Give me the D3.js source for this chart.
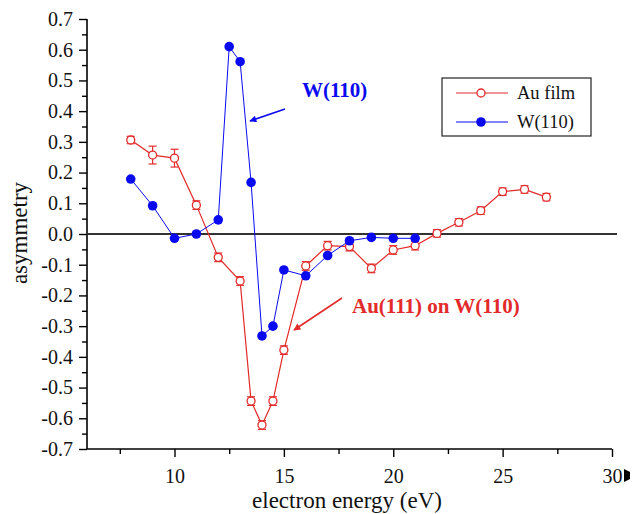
<!DOCTYPE html>
<html><head><meta charset="utf-8">
<script src="https://cdn.jsdelivr.net/npm/d3@7"></script>
<style>body{margin:0;background:#fff}svg{display:block}svg text{font-family:'Liberation Serif','Times New Roman',serif !important}</style>
</head><body>
<svg id="c" width="632" height="514"></svg>
<script>
const auX = [8,9,10,11,12,13,13.5,14,14.5,15,16,17,18,19,20,21,22,23,24,25,26,27];
const auY = [0.306,0.257,0.247,0.094,-0.076,-0.153,-0.544,-0.622,-0.544,-0.378,-0.104,-0.038,-0.041,-0.112,-0.052,-0.038,0.002,0.038,0.076,0.138,0.145,0.12];
const auErr = [0.012,0.029,0.029,0.014,0.014,0.014,0.014,0.014,0.014,0.014,0.014,0.014,0.014,0.014,0.014,0.014,0.012,0.012,0.012,0.012,0.012,0.012];
const wX = [8,9,10,11,12,12.5,13,13.5,14,14.5,15,16,17,18,19,20,21];
const wY = [0.179,0.092,-0.014,0.0,0.046,0.61,0.561,0.168,-0.332,-0.30,-0.117,-0.136,-0.07,-0.022,-0.011,-0.014,-0.014];
const xTicks = [10,15,20,25,30];
const yTicks = [0.7,0.6,0.5,0.4,0.3,0.2,0.1,0.0,-0.1,-0.2,-0.3,-0.4,-0.5,-0.6,-0.7];
const seriesNames = ["Au film","W(110)"];

const red = "#e32a2a", blue = "#0a0af0";
const svg = d3.select("#c");
const x = d3.scaleLinear().domain([6,30]).range([87,612]);
const y = d3.scaleLinear().domain([-0.7,0.7]).range([449,19]);

// axes
const xAxis = d3.axisBottom(x).tickValues(xTicks).tickFormat(d=>String(d)).tickSize(8).tickPadding(12);
const xMinor = d3.axisBottom(x).tickValues([7.5,12.5,17.5,22.5,27.5]).tickFormat("").tickSize(5);
const yAxis = d3.axisLeft(y).tickValues(yTicks).tickFormat(d=>(Math.abs(d)<1e-9?0:d).toFixed(1)).tickSize(8).tickPadding(6);
const yMinor = d3.axisLeft(y).tickValues(d3.range(-0.65,0.7,0.1)).tickFormat("").tickSize(5);

function style(g){
  g.attr("font-family",null);
  g.select(".domain").attr("stroke","#000").attr("stroke-width",1.6);
  g.selectAll(".tick line").attr("stroke","#000").attr("stroke-width",1.4);
  g.selectAll(".tick text").attr("fill","#111").style("font-size","20px");
}
svg.append("g").attr("transform","translate(0,449)").call(xAxis).call(style).call(g=>g.select(".domain").attr("d","M87,0H612"));
svg.append("g").attr("transform","translate(0,449)").call(xMinor).call(style).call(g=>g.select(".domain").remove());
svg.append("g").attr("transform","translate(87,0)").call(yAxis).call(style).call(g=>g.select(".domain").attr("d","M0,19V449"));
svg.append("g").attr("transform","translate(87,0)").call(yMinor).call(style).call(g=>g.select(".domain").remove());

// small black mark after 30
svg.append("path").attr("d","M624,469L630,472L630,479L624,482Z").attr("fill","#000");

// zero line
svg.append("line").attr("x1",87).attr("x2",617).attr("y1",y(0)).attr("y2",y(0)).attr("stroke","#333").attr("stroke-width",2);

// axis titles
svg.append("text").attr("x",347).attr("y",508).attr("text-anchor","middle").style("font-size","23px").attr("fill","#111").text("electron energy (eV)");
svg.append("text").attr("transform","translate(27,233) rotate(-90)").attr("text-anchor","middle").style("font-size","23px").attr("fill","#111").text("asymmetry");

// Au film
const au = auX.map((d,i)=>({x:d,y:auY[i],e:auErr[i]}));
const line = d3.line().x(d=>x(d.x)).y(d=>y(d.y));
svg.append("path").datum(au).attr("d",line).attr("fill","none").attr("stroke",red).attr("stroke-width",1.2);
const eb = svg.append("g").attr("stroke",red).attr("stroke-width",1.2);
au.forEach(d=>{
  eb.append("line").attr("x1",x(d.x)).attr("x2",x(d.x)).attr("y1",y(d.y+d.e)).attr("y2",y(d.y-d.e));
  eb.append("line").attr("x1",x(d.x)-4).attr("x2",x(d.x)+4).attr("y1",y(d.y+d.e)).attr("y2",y(d.y+d.e));
  eb.append("line").attr("x1",x(d.x)-4).attr("x2",x(d.x)+4).attr("y1",y(d.y-d.e)).attr("y2",y(d.y-d.e));
});
svg.append("g").selectAll("circle").data(au).join("circle")
  .attr("cx",d=>x(d.x)).attr("cy",d=>y(d.y)).attr("r",4)
  .attr("fill","#fff").attr("stroke",red).attr("stroke-width",1.3);

// W(110)
const w = wX.map((d,i)=>({x:d,y:wY[i]}));
svg.append("path").datum(w).attr("d",line).attr("fill","none").attr("stroke",blue).attr("stroke-width",1);
svg.append("g").selectAll("circle").data(w).join("circle")
  .attr("cx",d=>x(d.x)).attr("cy",d=>y(d.y)).attr("r",4.8).attr("fill",blue);

// annotations
const defs = svg.append("defs");
[["ab",blue],["ar",red]].forEach(([id,c])=>{
  defs.append("marker").attr("id",id).attr("viewBox","0 0 10 10").attr("refX",9).attr("refY",5)
    .attr("markerWidth",9).attr("markerHeight",7).attr("markerUnits","userSpaceOnUse").attr("orient","auto")
    .append("path").attr("d","M0,0L10,5L0,10Z").attr("fill",c);
});
svg.append("line").attr("x1",285).attr("y1",109).attr("x2",250).attr("y2",121).attr("stroke",blue).attr("stroke-width",1.6).attr("marker-end","url(#ab)");
svg.append("text").attr("x",302).attr("y",97).attr("fill",blue).style("font-size","21px").style("font-weight","bold").text("W(110)");
svg.append("line").attr("x1",342).attr("y1",298).attr("x2",294).attr("y2",330).attr("stroke",red).attr("stroke-width",1.6).attr("marker-end","url(#ar)");
svg.append("text").attr("x",352).attr("y",313).attr("fill",red).style("font-size","21px").style("font-weight","bold").text("Au(111) on W(110)");

// legend
const lg = svg.append("g");
lg.append("rect").attr("x",442).attr("y",78).attr("width",149).attr("height",58).attr("fill","#fff").attr("stroke","#222").attr("stroke-width",1.2);
const ly = [93, 122];
lg.append("line").attr("x1",456).attr("x2",508).attr("y1",ly[0]).attr("y2",ly[0]).attr("stroke",red).attr("stroke-width",1.2);
lg.append("circle").attr("cx",481).attr("cy",ly[0]).attr("r",4).attr("fill","#fff").attr("stroke",red).attr("stroke-width",1.3);
lg.append("line").attr("x1",456).attr("x2",508).attr("y1",ly[1]).attr("y2",ly[1]).attr("stroke",blue).attr("stroke-width",1);
lg.append("circle").attr("cx",481).attr("cy",ly[1]).attr("r",4.8).attr("fill",blue);
seriesNames.forEach((n,i)=>lg.append("text").attr("x",517).attr("y",ly[i]+6).style("font-size","18.5px").attr("fill","#111").text(n));
</script>
</body></html>
